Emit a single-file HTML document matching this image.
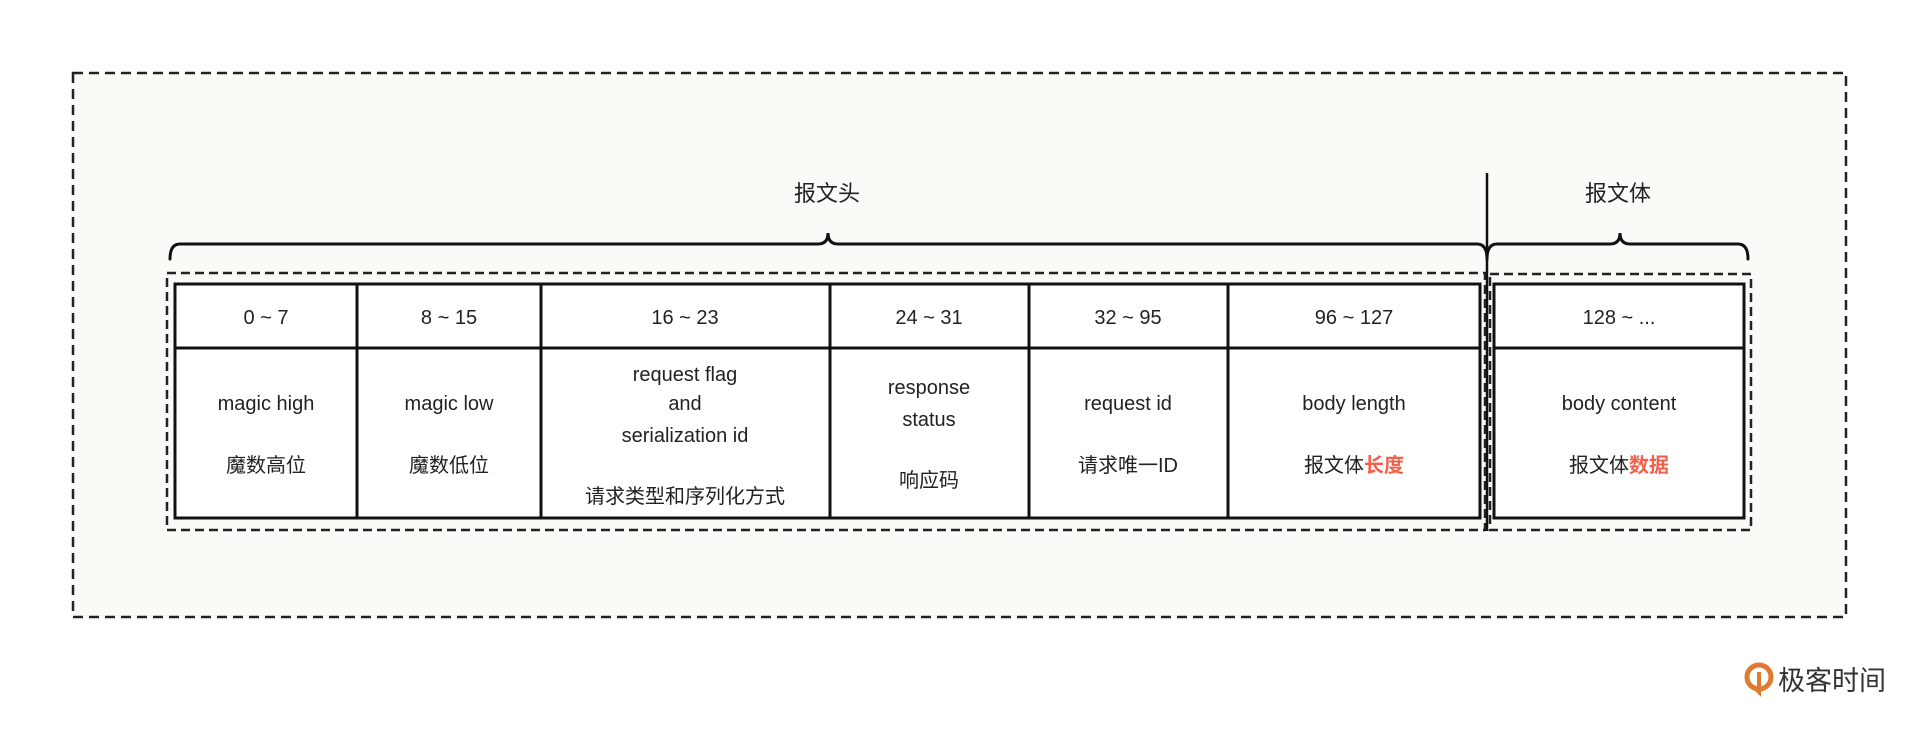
<!DOCTYPE html>
<html><head><meta charset="utf-8"><style>
html,body{margin:0;padding:0;background:#fff;}
svg{display:block}
text{font-family:"Liberation Sans","Noto Sans CJK SC",sans-serif;fill:#222;text-anchor:middle}
</style></head><body>
<svg width="1920" height="733" viewBox="0 0 1920 733" xmlns="http://www.w3.org/2000/svg">
<rect x="73" y="73" width="1773" height="544" fill="#fafaf6" stroke="#222" stroke-width="2.5" stroke-dasharray="10,6"/>
<rect x="167" y="273" width="1318" height="257" fill="none" stroke="#222" stroke-width="2.5" stroke-dasharray="9,5"/>
<rect x="1490" y="274" width="261" height="256" fill="none" stroke="#222" stroke-width="2.5" stroke-dasharray="9,5"/>
<g stroke="#111" stroke-width="3" fill="#fff">
<rect x="175" y="284" width="1305" height="234"/>
<rect x="1494" y="284" width="250" height="234"/>
<line x1="175" y1="348" x2="1480" y2="348"/>
<line x1="1494" y1="348" x2="1744" y2="348"/>
<line x1="357" y1="284" x2="357" y2="518"/>
<line x1="541" y1="284" x2="541" y2="518"/>
<line x1="830" y1="284" x2="830" y2="518"/>
<line x1="1029" y1="284" x2="1029" y2="518"/>
<line x1="1228" y1="284" x2="1228" y2="518"/>
</g>
<line x1="1487" y1="173" x2="1487" y2="531" stroke="#111" stroke-width="2.5"/>
<g fill="none" stroke="#111" stroke-width="3" stroke-linecap="round">
<path d="M170 259 Q170 244 180 244 L818 244 Q828 244 828 233 Q828 244 838 244 L1477 244 Q1487 244 1487 259"/>
<path d="M1487 259 Q1487 244 1497 244 L1610 244 Q1620 244 1620 233 Q1620 244 1630 244 L1738 244 Q1748 244 1748 259"/>
</g>
<text x="827" y="201" font-size="22">报文头</text>
<text x="1618" y="201" font-size="22">报文体</text>
<g font-size="20">
<text x="266" y="324">0 ~ 7</text>
<text x="449" y="324">8 ~ 15</text>
<text x="685" y="324">16 ~ 23</text>
<text x="929" y="324">24 ~ 31</text>
<text x="1128" y="324">32 ~ 95</text>
<text x="1354" y="324">96 ~ 127</text>
<text x="1619" y="324">128 ~ ...</text>
<text x="266" y="410">magic high</text>
<text x="266" y="472">魔数高位</text>
<text x="449" y="410">magic low</text>
<text x="449" y="472">魔数低位</text>
<text x="685" y="381">request flag</text>
<text x="685" y="410">and</text>
<text x="685" y="442">serialization id</text>
<text x="685" y="503">请求类型和序列化方式</text>
<text x="929" y="394">response</text>
<text x="929" y="426">status</text>
<text x="929" y="487">响应码</text>
<text x="1128" y="410">request id</text>
<text x="1128" y="472">请求唯一ID</text>
<text x="1354" y="410">body length</text>
<text x="1354" y="472">报文体<tspan style="fill:#f0604a;font-weight:bold">长度</tspan></text>
<text x="1619" y="410">body content</text>
<text x="1619" y="472">报文体<tspan style="fill:#f0604a;font-weight:bold">数据</tspan></text>
</g>
<circle cx="1759" cy="677" r="12" fill="none" stroke="#e07a30" stroke-width="5"/>
<path d="M1759 672 L1759 692 L1753 686" fill="none" stroke="#e07a30" stroke-width="4"/>
<text x="1832" y="690" font-size="27" style="fill:#333">极客时间</text>
</svg>
</body></html>
